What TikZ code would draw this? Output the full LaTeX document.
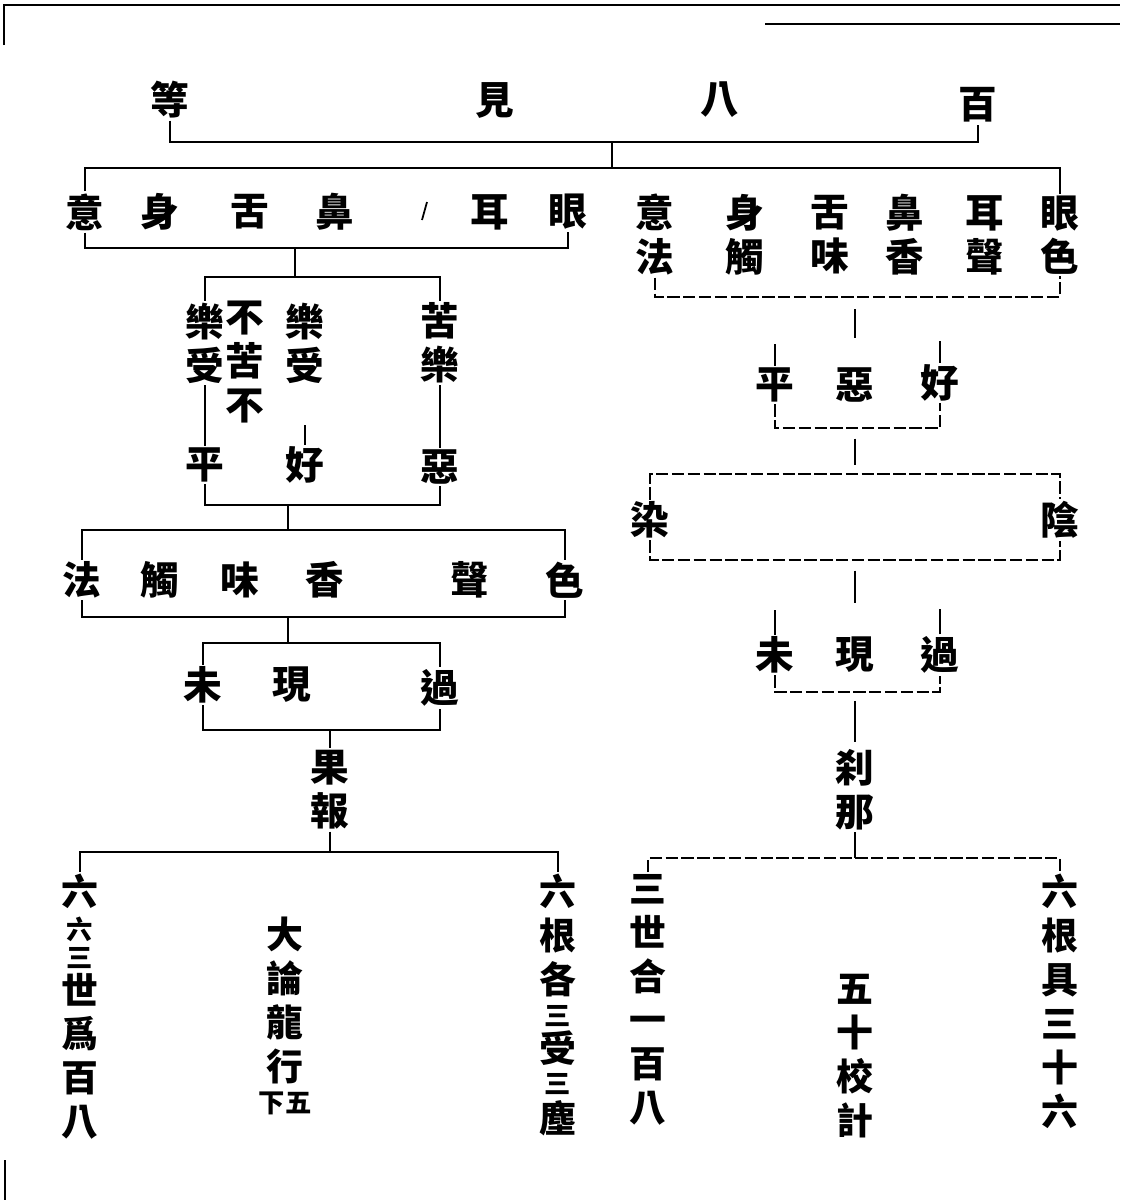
\documentclass[tikz,border=0pt]{standalone}
\usepackage{fontspec}
\newfontfamily\cjk{Noto Sans CJK TC}
\usetikzlibrary{positioning}
\tikzstyle{zi} = [font=\cjk\bfseries\fontsize{22}{25}\selectfont, inner sep=1pt, align=center]
\tikzstyle{hang} = [font=\cjk\bfseries\fontsize{21}{25}\selectfont, inner sep=1pt, align=center, anchor=north]
\tikzstyle{link} = [line width=1pt]
\tikzstyle{faint} = [line width=0.9pt, dash pattern=on 7pt off 2pt]
\newcommand{\xiao}[1]{{\fontsize{15}{15}\selectfont #1}}

\begin{document}
\begin{tikzpicture}[x=0.02cm, y=-0.02cm]
    \useasboundingbox (0,0) rectangle (1120,1200);

    % page edges
    \draw[link] (4,45) -- (4,5) -- (1120,5);
    \draw[line width=1.5pt] (765,24) -- (1120,24);
    \draw[link] (5,1160) -- (5,1200);

    % Title
    \node (deng) [zi] at (170,100) {等};
    \node (jian) [zi] at (495,100) {見};
    \node (ba) [zi] at (720,100) {八};
    \node (bai) [zi] at (978,105) {百};
    \coordinate (topmid) at (612,142);
    \coordinate (genbar) at (612,168);
    \draw[link] (deng.south) |- (topmid) -| (bai.south);
    \draw[link] (topmid) -- (genbar);

    % Six roots (left)
    \node (yi1) [zi] at (85,212) {意};
    \node (shen1) [zi] at (160,212) {身};
    \node (she1) [zi] at (250,212) {舌};
    \node (bi1) [zi] at (335,212) {鼻};
    \node (er1) [zi] at (490,212) {耳};
    \node (yan1) [zi] at (568,212) {眼};
    \draw[link] (422,220) -- (427,202);

    % Roots and dusts (right)
    \node (yifa) [zi] at (655,235) {意\\法};
    \node (shenchu) [zi] at (745,235) {身\\觸};
    \node (shewei) [zi] at (830,235) {舌\\味};
    \node (bixiang) [zi] at (905,235) {鼻\\香};
    \node (ersheng) [zi] at (985,235) {耳\\聲};
    \node (yanse) [zi] at (1060,235) {眼\\色};
    \draw[link] (yi1.north) |- (genbar) -| (yanse.north);

    % ==== Left tree
    \coordinate (lb1) at (295,248);
    \coordinate (lb2) at (295,277);
    \draw[link] (yi1.south) |- (lb1) -| (yan1.south);
    \draw[link] (lb1) -- (lb2);

    \node (leshou0) [zi] at (205,343) {樂\\受};
    \node (bukubu) [zi] at (245,362) {不\\苦\\不};
    \node (leshou) [zi] at (305,343) {樂\\受};
    \node (kule) [zi] at (440,343) {苦\\樂};
    \draw[link] (leshou0.north) |- (lb2) -| (kule.north);

    \node (ping2) [zi] at (205,465) {平};
    \node (hao2) [zi] at (305,465) {好};
    \node (e2) [zi] at (440,467) {惡};
    \draw[link] (leshou0.south) -- (ping2.north);
    \draw[link] (kule.south) -- (e2.north);
    \draw[link] (hao2.north) -- ++(0,-20);

    \coordinate (lb3) at (288,505);
    \coordinate (lb4) at (288,530);
    \draw[link] (ping2.south) |- (lb3) -| (e2.south);
    \draw[link] (lb3) -- (lb4);

    \node (fa) [zi] at (82,580) {法};
    \node (chu) [zi] at (160,580) {觸};
    \node (wei) [zi] at (240,580) {味};
    \node (xiang) [zi] at (325,580) {香};
    \node (sheng) [zi] at (470,580) {聲};
    \node (se) [zi] at (565,580) {色};
    \draw[link] (fa.north) |- (lb4) -| (se.north);

    \coordinate (lb5) at (288,617);
    \coordinate (lb6) at (288,643);
    \draw[link] (fa.south) |- (lb5) -| (se.south);
    \draw[link] (lb5) -- (lb6);

    \node (wei3) [zi] at (203,685) {未};
    \node (xian3) [zi] at (292,685) {現};
    \node (guo3) [zi] at (440,688) {過};
    \draw[link] (wei3.north) |- (lb6) -| (guo3.north);

    \coordinate (lb7) at (330,730);
    \draw[link] (wei3.south) |- (lb7) -| (guo3.south);
    \node (guobao) [zi] at (330,790) {果\\報};
    \draw[link] (lb7) -- (guobao.north);
    \coordinate (lb8) at (330,852);
    \draw[link] (guobao.south) -- (lb8);

    \node (liuliu) [hang] at (80,872) {六\\[-6pt]\xiao{六}\\[-9pt]\xiao{三}\\[-4pt]世\\爲\\百\\八};
    \node (dalun) [hang] at (285,915) {大\\論\\龍\\行};
    \node (juan) [below=2pt of dalun, zi] {\xiao{下五}};
    \node (liugen1) [hang] at (558,872) {六\\根\\各\\[-7pt]\xiao{三}\\[-4pt]受\\[-7pt]\xiao{三}\\[-3pt]塵};
    \draw[link] (liuliu.north) |- (lb8) -| (liugen1.north);

    % ==== Right tree
    \coordinate (rb1) at (855,297);
    \draw[faint] (yifa.south) |- (rb1) -| (yanse.south);

    \node (ping1) [zi] at (775,385) {平};
    \node (e1) [zi] at (855,385) {惡};
    \node (hao1) [zi] at (940,383) {好};
    \draw[link, shorten <=7pt, shorten >=16pt] (rb1) -- (e1.north);
    \draw[link] (ping1.north) -- ++(0,-22);
    \draw[link] (hao1.north) -- ++(0,-22);

    \coordinate (rb3) at (855,428);
    \coordinate (rb4) at (855,474);
    \draw[faint] (ping1.south) |- (rb3) -| (hao1.south);
    \draw[link, shorten <=6pt, shorten >=5pt] (rb3) -- (rb4);

    \node (ran) [zi] at (650,520) {染};
    \node (yin) [zi] at (1060,520) {陰};
    \draw[faint] (ran.north) |- (rb4) -| (yin.north);

    \coordinate (rb5) at (855,560);
    \draw[faint] (ran.south) |- (rb5) -| (yin.south);

    \node (wei2) [zi] at (775,655) {未};
    \node (xian2) [zi] at (855,655) {現};
    \node (guo2) [zi] at (940,655) {過};
    \draw[link, shorten <=6pt, shorten >=18pt] (rb5) -- (xian2.north);
    \draw[link] (wei2.north) -- ++(0,-25);
    \draw[link] (guo2.north) -- ++(0,-25);

    \coordinate (rb6) at (855,692);
    \draw[faint] (wei2.south) |- (rb6) -| (guo2.south);
    \node (chana) [zi] at (855,790) {刹\\那};
    \draw[link, shorten <=5pt, shorten >=3pt] (rb6) -- (chana.north);
    \coordinate (rb7) at (855,858);
    \draw[link] (chana.south) -- (rb7);

    \node (sanshi) [hang] at (648,872) {三\\世\\合\\一\\百\\八};
    \node (wushi) [hang] at (855,972) {五\\十\\校\\計};
    \node (liugen2) [hang] at (1060,872) {六\\根\\具\\三\\十\\六};
    \draw[faint] (sanshi.north) |- (rb7) -| (liugen2.north);

\end{tikzpicture}
\end{document}
